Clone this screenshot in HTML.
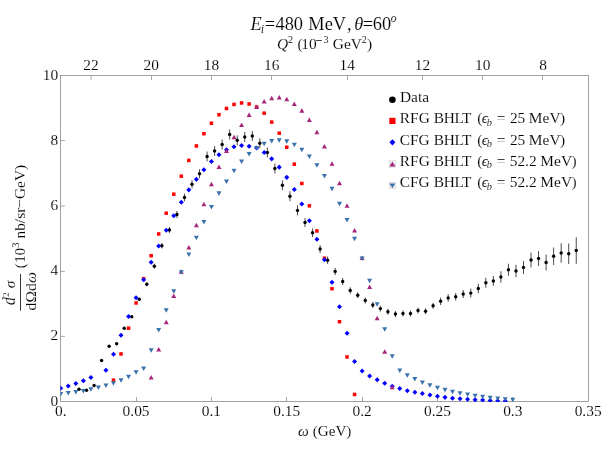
<!DOCTYPE html>
<html><head><meta charset="utf-8"><title>chart</title>
<style>
html,body{margin:0;padding:0;background:#fff;overflow:hidden;}
svg{display:block;will-change:transform;}
text{font-family:"Liberation Serif",serif;fill:#000;stroke:#fff;stroke-width:0.12px;}
.i{font-style:italic;}
</style></head><body>
<svg width="608" height="456" viewBox="0 0 608 456">
<rect x="0" y="0" width="608" height="456" fill="#fff"/>
<defs><clipPath id="c"><rect x="60.4" y="75.5" width="528.1" height="326.45"/></clipPath></defs>
<path d="M60.5 336.4h4.4M60.5 271.4h4.4M60.5 206h4.4M60.5 140.5h4.4M136.5 401.5v-4.5M211.5 401.5v-4.5M286.5 401.5v-4.5M362.5 401.5v-4.5M437.5 401.5v-4.5M512.5 401.5v-4.5M91 75.5v4.5M151.5 75.5v4.5M211.5 75.5v4.5M271.5 75.5v4.5M347.5 75.5v4.5M422.5 75.5v4.5M482.5 75.5v4.5M542.5 75.5v4.5" stroke="#8c8c8c" stroke-width="0.75" fill="none"/>
<rect x="60.5" y="75.5" width="528" height="326" fill="none" stroke="#7a7a7a" stroke-width="0.7"/>
<g clip-path="url(#c)">
<path d="M139.27 297.75V300.75M146.81 282.25V286.25M154.34 263.75V268.75M161.87 243V248.5M169.41 227V233M176.94 211V218M184.48 193.75V201.25M192.01 180.25V188.25M199.54 169.25V178.25M207.08 151.5V161.5M214.61 146V156M222.15 139.5V149.5M229.68 129.5V139.5M237.21 135.25V145.25M244.75 132V142M252.28 131V141M259.82 138.25V148.25M267.35 147.5V157.5M274.88 163.5V173.5M282.42 180.25V190.25M289.95 191.25V201.25M297.49 205.4V215.4M305.02 218V227M312.55 228.5V237M320.09 245V253M327.62 256.5V264M335.16 268V275M342.69 278V285M350.22 287.25V293.75M357.76 292.25V298.25M365.29 297.5V303.5M372.83 302V308M380.36 305.6V311.6M387.89 308.75V314.75M395.43 311V317M402.96 310.5V316.5M410.5 310.5V316.5M418.03 307.5V313.5M425.56 308.25V314.25M433.1 302.75V308.75M440.63 297.55V305.05M448.17 294.15V301.65M455.7 293V300.5M463.23 290V298M470.77 288.6V297.6M478.3 283.75V293.25M485.84 277.75V287.75M493.37 276V286M500.9 271.25V282.75M508.44 263.75V275.75M515.97 264.75V277.25M523.51 261V274M531.04 252.75V267.25M538.57 251V266M546.11 254.5V270.5M553.64 247.5V265M561.18 243.25V262.75M568.71 243.5V264M576.24 237.25V263.75" stroke="#101010" stroke-width="0.75" fill="none"/>
<g fill="#000"><circle cx="79" cy="389.25" r="1.7"/><circle cx="86.53" cy="390.25" r="1.7"/><circle cx="94.07" cy="385.5" r="1.7"/><circle cx="101.6" cy="360.5" r="1.7"/><circle cx="109.14" cy="346.25" r="1.7"/><circle cx="116.67" cy="343.75" r="1.7"/><circle cx="124.2" cy="328.25" r="1.7"/><circle cx="131.74" cy="316.75" r="1.7"/><circle cx="139.27" cy="299.25" r="1.7"/><circle cx="146.81" cy="284.25" r="1.7"/><circle cx="154.34" cy="266.25" r="1.7"/><circle cx="161.87" cy="245.75" r="1.7"/><circle cx="169.41" cy="230" r="1.7"/><circle cx="176.94" cy="214.5" r="1.7"/><circle cx="184.48" cy="197.5" r="1.7"/><circle cx="192.01" cy="184.25" r="1.7"/><circle cx="199.54" cy="173.75" r="1.7"/><circle cx="207.08" cy="156.5" r="1.7"/><circle cx="214.61" cy="151" r="1.7"/><circle cx="222.15" cy="144.5" r="1.7"/><circle cx="229.68" cy="134.5" r="1.7"/><circle cx="237.21" cy="140.25" r="1.7"/><circle cx="244.75" cy="137" r="1.7"/><circle cx="252.28" cy="136" r="1.7"/><circle cx="259.82" cy="143.25" r="1.7"/><circle cx="267.35" cy="152.5" r="1.7"/><circle cx="274.88" cy="168.5" r="1.7"/><circle cx="282.42" cy="185.25" r="1.7"/><circle cx="289.95" cy="196.25" r="1.7"/><circle cx="297.49" cy="210.4" r="1.7"/><circle cx="305.02" cy="222.5" r="1.7"/><circle cx="312.55" cy="232.75" r="1.7"/><circle cx="320.09" cy="249" r="1.7"/><circle cx="327.62" cy="260.25" r="1.7"/><circle cx="335.16" cy="271.5" r="1.7"/><circle cx="342.69" cy="281.5" r="1.7"/><circle cx="350.22" cy="290.5" r="1.7"/><circle cx="357.76" cy="295.25" r="1.7"/><circle cx="365.29" cy="300.5" r="1.7"/><circle cx="372.83" cy="305" r="1.7"/><circle cx="380.36" cy="308.6" r="1.7"/><circle cx="387.89" cy="311.75" r="1.7"/><circle cx="395.43" cy="314" r="1.7"/><circle cx="402.96" cy="313.5" r="1.7"/><circle cx="410.5" cy="313.5" r="1.7"/><circle cx="418.03" cy="310.5" r="1.7"/><circle cx="425.56" cy="311.25" r="1.7"/><circle cx="433.1" cy="305.75" r="1.7"/><circle cx="440.63" cy="301.3" r="1.7"/><circle cx="448.17" cy="297.9" r="1.7"/><circle cx="455.7" cy="296.75" r="1.7"/><circle cx="463.23" cy="294" r="1.7"/><circle cx="470.77" cy="293.1" r="1.7"/><circle cx="478.3" cy="288.5" r="1.7"/><circle cx="485.84" cy="282.75" r="1.7"/><circle cx="493.37" cy="281" r="1.7"/><circle cx="500.9" cy="277" r="1.7"/><circle cx="508.44" cy="269.75" r="1.7"/><circle cx="515.97" cy="271" r="1.7"/><circle cx="523.51" cy="267.5" r="1.7"/><circle cx="531.04" cy="260" r="1.7"/><circle cx="538.57" cy="258.5" r="1.7"/><circle cx="546.11" cy="262.5" r="1.7"/><circle cx="553.64" cy="256.25" r="1.7"/><circle cx="561.18" cy="253" r="1.7"/><circle cx="568.71" cy="253.75" r="1.7"/><circle cx="576.24" cy="250.5" r="1.7"/></g>
<g fill="#ff0000"><rect x="111.74" y="378.45" width="3.5" height="3.5"/><rect x="119.27" y="352.2" width="3.5" height="3.5"/><rect x="126.81" y="326.45" width="3.5" height="3.5"/><rect x="134.34" y="301.2" width="3.5" height="3.5"/><rect x="141.87" y="276.95" width="3.5" height="3.5"/><rect x="149.41" y="253.95" width="3.5" height="3.5"/><rect x="156.94" y="232.2" width="3.5" height="3.5"/><rect x="164.48" y="211.45" width="3.5" height="3.5"/><rect x="172.01" y="192.45" width="3.5" height="3.5"/><rect x="179.54" y="174.45" width="3.5" height="3.5"/><rect x="187.08" y="158.7" width="3.5" height="3.5"/><rect x="194.61" y="144.2" width="3.5" height="3.5"/><rect x="202.15" y="131.95" width="3.5" height="3.5"/><rect x="209.68" y="121.45" width="3.5" height="3.5"/><rect x="217.21" y="112.95" width="3.5" height="3.5"/><rect x="224.75" y="106.7" width="3.5" height="3.5"/><rect x="232.28" y="102.7" width="3.5" height="3.5"/><rect x="239.82" y="101.2" width="3.5" height="3.5"/><rect x="247.35" y="102.2" width="3.5" height="3.5"/><rect x="254.88" y="105.2" width="3.5" height="3.5"/><rect x="262.42" y="111.45" width="3.5" height="3.5"/><rect x="269.95" y="120.35" width="3.5" height="3.5"/><rect x="277.49" y="131.45" width="3.5" height="3.5"/><rect x="285.02" y="145.45" width="3.5" height="3.5"/><rect x="292.55" y="162.45" width="3.5" height="3.5"/><rect x="300.09" y="181.7" width="3.5" height="3.5"/><rect x="307.62" y="204.05" width="3.5" height="3.5"/><rect x="315.16" y="229.2" width="3.5" height="3.5"/><rect x="322.69" y="256.45" width="3.5" height="3.5"/><rect x="330.22" y="286.95" width="3.5" height="3.5"/><rect x="337.76" y="319.95" width="3.5" height="3.5"/><rect x="345.29" y="355.2" width="3.5" height="3.5"/><rect x="352.83" y="392.7" width="3.5" height="3.5"/></g>
<g fill="#0000ff"><path d="M60.75 385.65L63.25 388.25L60.75 390.85L58.25 388.25Z"/><path d="M68.28 383.4L70.78 386L68.28 388.6L65.78 386Z"/><path d="M75.82 380.9L78.32 383.5L75.82 386.1L73.32 383.5Z"/><path d="M83.35 378.15L85.85 380.75L83.35 383.35L80.85 380.75Z"/><path d="M90.89 374.9L93.39 377.5L90.89 380.1L88.39 377.5Z"/><path d="M105.95 367.65L108.45 370.25L105.95 372.85L103.45 370.25Z"/><path d="M113.49 351.65L115.99 354.25L113.49 356.85L110.99 354.25Z"/><path d="M121.02 332.65L123.52 335.25L121.02 337.85L118.52 335.25Z"/><path d="M128.56 313.9L131.06 316.5L128.56 319.1L126.06 316.5Z"/><path d="M136.09 295.15L138.59 297.75L136.09 300.35L133.59 297.75Z"/><path d="M143.62 277.15L146.12 279.75L143.62 282.35L141.12 279.75Z"/><path d="M151.16 259.65L153.66 262.25L151.16 264.85L148.66 262.25Z"/><path d="M158.69 243.4L161.19 246L158.69 248.6L156.19 246Z"/><path d="M166.23 227.65L168.73 230.25L166.23 232.85L163.73 230.25Z"/><path d="M173.76 213.15L176.26 215.75L173.76 218.35L171.26 215.75Z"/><path d="M181.29 199.65L183.79 202.25L181.29 204.85L178.79 202.25Z"/><path d="M188.83 187.25L191.33 189.85L188.83 192.45L186.33 189.85Z"/><path d="M196.36 176.75L198.86 179.35L196.36 181.95L193.86 179.35Z"/><path d="M203.9 167.15L206.4 169.75L203.9 172.35L201.4 169.75Z"/><path d="M211.43 158.9L213.93 161.5L211.43 164.1L208.93 161.5Z"/><path d="M218.96 152.15L221.46 154.75L218.96 157.35L216.46 154.75Z"/><path d="M226.5 147.15L229 149.75L226.5 152.35L224 149.75Z"/><path d="M234.03 144.15L236.53 146.75L234.03 149.35L231.53 146.75Z"/><path d="M241.57 142.9L244.07 145.5L241.57 148.1L239.07 145.5Z"/><path d="M249.1 143.65L251.6 146.25L249.1 148.85L246.6 146.25Z"/><path d="M256.63 145.4L259.13 148L256.63 150.6L254.13 148Z"/><path d="M264.17 149.9L266.67 152.5L264.17 155.1L261.67 152.5Z"/><path d="M271.7 156.25L274.2 158.85L271.7 161.45L269.2 158.85Z"/><path d="M279.24 164.55L281.74 167.15L279.24 169.75L276.74 167.15Z"/><path d="M286.77 174.75L289.27 177.35L286.77 179.95L284.27 177.35Z"/><path d="M294.3 186.9L296.8 189.5L294.3 192.1L291.8 189.5Z"/><path d="M301.84 201.4L304.34 204L301.84 206.6L299.34 204Z"/><path d="M309.37 218.15L311.87 220.75L309.37 223.35L306.87 220.75Z"/><path d="M316.91 236.65L319.41 239.25L316.91 241.85L314.41 239.25Z"/><path d="M324.44 257.15L326.94 259.75L324.44 262.35L321.94 259.75Z"/><path d="M331.97 279.65L334.47 282.25L331.97 284.85L329.47 282.25Z"/><path d="M339.51 304.15L342.01 306.75L339.51 309.35L337.01 306.75Z"/><path d="M347.04 330.65L349.54 333.25L347.04 335.85L344.54 333.25Z"/><path d="M354.58 358.9L357.08 361.5L354.58 364.1L352.08 361.5Z"/><path d="M362.11 368.4L364.61 371L362.11 373.6L359.61 371Z"/><path d="M369.64 373.4L372.14 376L369.64 378.6L367.14 376Z"/><path d="M377.18 377.15L379.68 379.75L377.18 382.35L374.68 379.75Z"/><path d="M384.71 380.65L387.21 383.25L384.71 385.85L382.21 383.25Z"/><path d="M392.25 383.65L394.75 386.25L392.25 388.85L389.75 386.25Z"/><path d="M399.78 385.9L402.28 388.5L399.78 391.1L397.28 388.5Z"/><path d="M407.31 388.15L409.81 390.75L407.31 393.35L404.81 390.75Z"/><path d="M414.85 389.65L417.35 392.25L414.85 394.85L412.35 392.25Z"/><path d="M422.38 390.9L424.88 393.5L422.38 396.1L419.88 393.5Z"/><path d="M429.92 392.4L432.42 395L429.92 397.6L427.42 395Z"/><path d="M437.45 393.65L439.95 396.25L437.45 398.85L434.95 396.25Z"/><path d="M444.98 394.75L447.48 397.35L444.98 399.95L442.48 397.35Z"/><path d="M452.52 395.65L455.02 398.25L452.52 400.85L450.02 398.25Z"/><path d="M460.05 396.15L462.55 398.75L460.05 401.35L457.55 398.75Z"/><path d="M467.59 396.65L470.09 399.25L467.59 401.85L465.09 399.25Z"/><path d="M475.12 397.15L477.62 399.75L475.12 402.35L472.62 399.75Z"/><path d="M482.65 397.4L485.15 400L482.65 402.6L480.15 400Z"/><path d="M490.19 397.9L492.69 400.5L490.19 403.1L487.69 400.5Z"/><path d="M497.72 398.15L500.22 400.75L497.72 403.35L495.22 400.75Z"/><path d="M505.26 398.4L507.76 401L505.26 403.6L502.76 401Z"/></g>
<g fill="#a6267a"><path d="M151.16 375L153.66 379.6L148.66 379.6Z"/><path d="M158.69 347L161.19 351.6L156.19 351.6Z"/><path d="M166.23 319.75L168.73 324.35L163.73 324.35Z"/><path d="M173.76 293.5L176.26 298.1L171.26 298.1Z"/><path d="M181.29 269.25L183.79 273.85L178.79 273.85Z"/><path d="M188.83 245L191.33 249.6L186.33 249.6Z"/><path d="M196.36 222.75L198.86 227.35L193.86 227.35Z"/><path d="M203.9 201.75L206.4 206.35L201.4 206.35Z"/><path d="M211.43 181.75L213.93 186.35L208.93 186.35Z"/><path d="M218.96 164.5L221.46 169.1L216.46 169.1Z"/><path d="M226.5 148.5L229 153.1L224 153.1Z"/><path d="M234.03 134.75L236.53 139.35L231.53 139.35Z"/><path d="M241.57 122.5L244.07 127.1L239.07 127.1Z"/><path d="M249.1 112.5L251.6 117.1L246.6 117.1Z"/><path d="M256.63 104.5L259.13 109.1L254.13 109.1Z"/><path d="M264.17 99L266.67 103.6L261.67 103.6Z"/><path d="M271.7 95.75L274.2 100.35L269.2 100.35Z"/><path d="M279.24 95L281.74 99.6L276.74 99.6Z"/><path d="M286.77 96.75L289.27 101.35L284.27 101.35Z"/><path d="M294.3 101.4L296.8 106L291.8 106Z"/><path d="M301.84 108.1L304.34 112.7L299.34 112.7Z"/><path d="M309.37 117.4L311.87 122L306.87 122Z"/><path d="M316.91 129.75L319.41 134.35L314.41 134.35Z"/><path d="M324.44 144L326.94 148.6L321.94 148.6Z"/><path d="M331.97 161.25L334.47 165.85L329.47 165.85Z"/><path d="M339.51 180.75L342.01 185.35L337.01 185.35Z"/><path d="M347.04 203.25L349.54 207.85L344.54 207.85Z"/><path d="M354.58 228L357.08 232.6L352.08 232.6Z"/><path d="M362.11 255.5L364.61 260.1L359.61 260.1Z"/><path d="M369.64 284.5L372.14 289.1L367.14 289.1Z"/><path d="M377.18 315.75L379.68 320.35L374.68 320.35Z"/><path d="M384.71 349.25L387.21 353.85L382.21 353.85Z"/><path d="M392.25 384.75L394.75 389.35L389.75 389.35Z"/></g>
<g fill="#3a72ab"><path d="M60.75 396.6L63.25 392L58.25 392Z"/><path d="M68.28 395.6L70.78 391L65.78 391Z"/><path d="M75.82 394.6L78.32 390L73.32 390Z"/><path d="M83.35 393.6L85.85 389L80.85 389Z"/><path d="M90.89 391.85L93.39 387.25L88.39 387.25Z"/><path d="M98.42 390.1L100.92 385.5L95.92 385.5Z"/><path d="M105.95 388.1L108.45 383.5L103.45 383.5Z"/><path d="M113.49 385.85L115.99 381.25L110.99 381.25Z"/><path d="M121.02 382.85L123.52 378.25L118.52 378.25Z"/><path d="M128.56 379.35L131.06 374.75L126.06 374.75Z"/><path d="M136.09 374.85L138.59 370.25L133.59 370.25Z"/><path d="M143.62 371.1L146.12 366.5L141.12 366.5Z"/><path d="M151.16 352.85L153.66 348.25L148.66 348.25Z"/><path d="M158.69 332.6L161.19 328L156.19 328Z"/><path d="M166.23 312.85L168.73 308.25L163.73 308.25Z"/><path d="M173.76 293.85L176.26 289.25L171.26 289.25Z"/><path d="M181.29 274.85L183.79 270.25L178.79 270.25Z"/><path d="M188.83 257.1L191.33 252.5L186.33 252.5Z"/><path d="M196.36 240.35L198.86 235.75L193.86 235.75Z"/><path d="M203.9 224.6L206.4 220L201.4 220Z"/><path d="M211.43 209.6L213.93 205L208.93 205Z"/><path d="M218.96 195.95L221.46 191.35L216.46 191.35Z"/><path d="M226.5 184.1L229 179.5L224 179.5Z"/><path d="M234.03 173.35L236.53 168.75L231.53 168.75Z"/><path d="M241.57 164.1L244.07 159.5L239.07 159.5Z"/><path d="M249.1 156.6L251.6 152L246.6 152Z"/><path d="M256.63 150.6L259.13 146L254.13 146Z"/><path d="M264.17 146.35L266.67 141.75L261.67 141.75Z"/><path d="M271.7 143.6L274.2 139L269.2 139Z"/><path d="M279.24 142.75L281.74 138.15L276.74 138.15Z"/><path d="M286.77 143.95L289.27 139.35L284.27 139.35Z"/><path d="M294.3 147.35L296.8 142.75L291.8 142.75Z"/><path d="M301.84 152.25L304.34 147.65L299.34 147.65Z"/><path d="M309.37 159.1L311.87 154.5L306.87 154.5Z"/><path d="M316.91 167.85L319.41 163.25L314.41 163.25Z"/><path d="M324.44 178.6L326.94 174L321.94 174Z"/><path d="M331.97 191.35L334.47 186.75L329.47 186.75Z"/><path d="M339.51 206.25L342.01 201.65L337.01 201.65Z"/><path d="M347.04 222.6L349.54 218L344.54 218Z"/><path d="M354.58 241.35L357.08 236.75L352.08 236.75Z"/><path d="M362.11 261.1L364.61 256.5L359.61 256.5Z"/><path d="M369.64 283.35L372.14 278.75L367.14 278.75Z"/><path d="M377.18 306.75L379.68 302.15L374.68 302.15Z"/><path d="M384.71 331.85L387.21 327.25L382.21 327.25Z"/><path d="M392.25 358.85L394.75 354.25L389.75 354.25Z"/><path d="M399.78 373.1L402.28 368.5L397.28 368.5Z"/><path d="M407.31 377.85L409.81 373.25L404.81 373.25Z"/><path d="M414.85 381.6L417.35 377L412.35 377Z"/><path d="M422.38 385.1L424.88 380.5L419.88 380.5Z"/><path d="M429.92 387.85L432.42 383.25L427.42 383.25Z"/><path d="M437.45 390.35L439.95 385.75L434.95 385.75Z"/><path d="M444.98 392.45L447.48 387.85L442.48 387.85Z"/><path d="M452.52 394.25L455.02 389.65L450.02 389.65Z"/><path d="M460.05 395.85L462.55 391.25L457.55 391.25Z"/><path d="M467.59 397.1L470.09 392.5L465.09 392.5Z"/><path d="M475.12 398.35L477.62 393.75L472.62 393.75Z"/><path d="M482.65 399.35L485.15 394.75L480.15 394.75Z"/><path d="M490.19 400.35L492.69 395.75L487.69 395.75Z"/><path d="M497.72 401.1L500.22 396.5L495.22 396.5Z"/><path d="M505.26 401.85L507.76 397.25L502.76 397.25Z"/><path d="M512.79 402.35L515.29 397.75L510.29 397.75Z"/></g>
</g>
<g font-size="15.4">
<text x="58.1" y="405.6" text-anchor="end">0</text><text x="58.1" y="340.4" text-anchor="end">2</text><text x="58.1" y="274.8" text-anchor="end">4</text><text x="58.1" y="209.8" text-anchor="end">6</text><text x="58.1" y="144.6" text-anchor="end">8</text><text x="58.1" y="79.9" text-anchor="end">10</text>
<text x="60.75" y="415.7" text-anchor="middle">0.</text><text x="136.09" y="415.7" text-anchor="middle">0.05</text><text x="211.43" y="415.7" text-anchor="middle">0.1</text><text x="286.77" y="415.7" text-anchor="middle">0.15</text><text x="362.11" y="415.7" text-anchor="middle">0.2</text><text x="437.45" y="415.7" text-anchor="middle">0.25</text><text x="512.79" y="415.7" text-anchor="middle">0.3</text><text x="588.13" y="415.7" text-anchor="middle">0.35</text>
<text x="90.99" y="69.6" text-anchor="middle">22</text><text x="151.26" y="69.6" text-anchor="middle">20</text><text x="211.53" y="69.6" text-anchor="middle">18</text><text x="271.8" y="69.6" text-anchor="middle">16</text><text x="347.14" y="69.6" text-anchor="middle">14</text><text x="422.48" y="69.6" text-anchor="middle">12</text><text x="482.75" y="69.6" text-anchor="middle">10</text><text x="543.03" y="69.6" text-anchor="middle">8</text>
</g>
<text x="250.52" y="30" font-size="18.4" class="i">E</text><text x="260.72" y="33.4" font-size="12.2" class="i">i</text><text x="264.78" y="30" font-size="18.4">=</text><text x="275.44" y="30" font-size="18.4">480</text><text x="308.37" y="30" font-size="18.4">MeV</text><text x="346.9" y="30" font-size="18.4">,</text><text x="354.2" y="30" font-size="18.4" class="i">θ</text><text x="362.78" y="30" font-size="18.4">=</text><text x="372.81" y="30" font-size="18.4">60</text><text x="390.75" y="22" font-size="11.6" class="i">o</text>
<text x="276.95" y="48.8" font-size="15.4" class="i">Q</text><text x="287.95" y="43" font-size="10.2">2</text><text x="297.52" y="48.8" font-size="15.4">(</text><text x="301.25" y="48.8" font-size="15.4">10</text><text x="323.41" y="43" font-size="10.2">3</text><text x="332.77" y="48.8" font-size="15.4">GeV</text><text x="361.65" y="43" font-size="10.2">2</text><text x="367" y="48.8" font-size="15.4">)</text>
<path d="M316.1 40.5H321.8" stroke="#000" stroke-width="0.75" fill="none"/>
<text x="298.1" y="435.5" font-size="15.2"><tspan class="i">ω</tspan> (GeV)</text>
<g transform="translate(25.3,310) rotate(-90)">
<path d="M-0.7 -4.8H36" stroke="#000" stroke-width="0.8" fill="none"/>
<g transform="translate(0,-10.4) scale(1,1.2)"><text x="5.13" y="0" font-size="15.4" class="i">d</text></g><text x="13" y="-16.7" font-size="9">2</text><text x="21.74" y="-10.4" font-size="15.4" class="i">σ</text>
<text x="-0.5" y="10.5" font-size="15.4" letter-spacing="0.2">dΩd<tspan class="i">ω</tspan></text>
<text x="41.8" y="0" font-size="15.4" letter-spacing="0.0">(10<tspan font-size="10.6" dy="-6.6">3</tspan><tspan dy="6.6"> nb/sr−GeV)</tspan></text>
</g>
<circle cx="392.4" cy="99.7" r="3.3" fill="#000"/>
<g fill="#ff0000"><rect x="389.3" y="117.8" width="6.2" height="6.2"/></g>
<g fill="#0000ff"><path d="M392.4 139.2L395.4 142.3L392.4 145.4L389.4 142.3Z"/></g>
<rect x="389.2" y="160.8" width="6.4" height="6.4" fill="#f4f4f4" stroke="#c8c8c8" stroke-width="0.5"/>
<rect x="389.2" y="182.4" width="6.4" height="6.4" fill="#f4f4f4" stroke="#c8c8c8" stroke-width="0.5"/>
<g fill="#a6267a"><path d="M392.4 161.6L395.4 166.4L389.4 166.4Z"/></g>
<g fill="#3a72ab"><path d="M392.4 188.3L395.4 183.5L389.4 183.5Z"/></g>
<text x="399.96" y="102" font-size="15.4">Data</text>
<text x="399.86" y="123.3" font-size="15.4">RFG</text><text x="433.86" y="123.3" font-size="15.4" textLength="37.6" lengthAdjust="spacing">BHLT</text><text x="477.22" y="123.3" font-size="15.4">(</text><text x="481.74" y="123.3" font-size="15.4" class="i">ϵ</text><text x="486.71" y="125.9" font-size="10.4" class="i">b</text><text x="496.83" y="123.3" font-size="15.4">=</text><text x="509.92" y="123.3" font-size="15.4">25</text><text x="528.86" y="123.3" font-size="15.4">MeV</text><text x="560.1" y="123.3" font-size="15.4">)</text>
<text x="399.67" y="144.5" font-size="15.4">CFG</text><text x="433.86" y="144.5" font-size="15.4" textLength="37.6" lengthAdjust="spacing">BHLT</text><text x="477.22" y="144.5" font-size="15.4">(</text><text x="481.74" y="144.5" font-size="15.4" class="i">ϵ</text><text x="486.71" y="147.1" font-size="10.4" class="i">b</text><text x="496.83" y="144.5" font-size="15.4">=</text><text x="509.92" y="144.5" font-size="15.4">25</text><text x="528.86" y="144.5" font-size="15.4">MeV</text><text x="560.1" y="144.5" font-size="15.4">)</text>
<text x="399.86" y="165.6" font-size="15.4">RFG</text><text x="433.86" y="165.6" font-size="15.4" textLength="37.6" lengthAdjust="spacing">BHLT</text><text x="477.22" y="165.6" font-size="15.4">(</text><text x="481.74" y="165.6" font-size="15.4" class="i">ϵ</text><text x="486.71" y="168.2" font-size="10.4" class="i">b</text><text x="496.83" y="165.6" font-size="15.4">=</text><text x="509.71" y="165.6" font-size="15.4">52.2</text><text x="540.36" y="165.6" font-size="15.4">MeV</text><text x="571.6" y="165.6" font-size="15.4">)</text>
<text x="399.67" y="186.9" font-size="15.4">CFG</text><text x="433.86" y="186.9" font-size="15.4" textLength="37.6" lengthAdjust="spacing">BHLT</text><text x="477.22" y="186.9" font-size="15.4">(</text><text x="481.74" y="186.9" font-size="15.4" class="i">ϵ</text><text x="486.71" y="189.5" font-size="10.4" class="i">b</text><text x="496.83" y="186.9" font-size="15.4">=</text><text x="509.71" y="186.9" font-size="15.4">52.2</text><text x="540.36" y="186.9" font-size="15.4">MeV</text><text x="571.6" y="186.9" font-size="15.4">)</text>
</svg>
</body></html>
